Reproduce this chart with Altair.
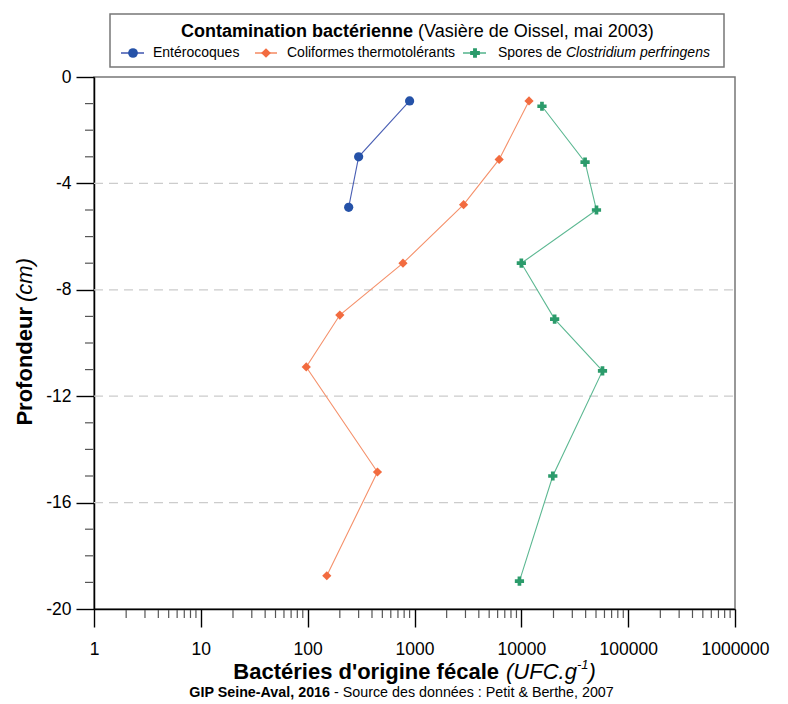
import altair as alt
import pandas as pd

FONT = "Liberation Sans, Arial, sans-serif"

# ---------------- data ----------------
series_names = ["Entérocoques", "Coliformes thermotolérants", "Spores de Clostridium perfringens"]
marker_colors = ["#2552a8", "#f26b3f", "#2b9b6b"]
line_colors = ["#4a5fb4", "#f5916b", "#5cb892"]
shapes = ["circle", "diamond", "cross"]

entero_depth = [-0.9, -3.0, -4.9]
entero_value = [900, 300, 242]
coli_depth = [-0.9, -3.1, -4.8, -7.0, -8.95, -10.9, -14.85, -18.75]
coli_value = [11800, 6200, 2880, 780, 200, 97, 450, 151]
clos_depth = [-1.1, -3.2, -5.0, -7.0, -9.1, -11.05, -15.0, -18.95]
clos_value = [15600, 39500, 50500, 10000, 20500, 57500, 19700, 9600]

x_major = [1, 10, 100, 1000, 10000, 100000, 1000000]
x_minor = [2, 3, 4, 5, 6, 7, 8, 9,
           20, 30, 40, 50, 60, 70, 80, 90,
           200, 300, 400, 500, 600, 700, 800, 900,
           2000, 3000, 4000, 5000, 6000, 7000, 8000, 9000,
           20000, 30000, 40000, 50000, 60000, 70000, 80000, 90000,
           200000, 300000, 400000, 500000, 600000, 700000, 800000, 900000]
y_major = [0, -4, -8, -12, -16, -20]
y_minor = [-1, -2, -3, -5, -6, -7, -9, -10, -11, -13, -14, -15, -17, -18, -19]
grid_vals = [-4, -8, -12, -16]

rows = []
for name, ds, vs in zip(series_names,
                        [entero_depth, coli_depth, clos_depth],
                        [entero_value, coli_value, clos_value]):
    for i, (d, v) in enumerate(zip(ds, vs)):
        rows.append({"series": name, "depth": d, "value": v, "idx": i})
df = pd.DataFrame(rows)

W, H = 641, 532

xscale = alt.Scale(type="log", domain=[1, 1000000])
yscale = alt.Scale(domain=[-20, 0], nice=False, zero=False)

xaxis = alt.Axis(values=x_major, labelExpr="'' + datum.value", tickSize=18, tickColor="black",
                 tickWidth=1.4, domainColor="black", domainWidth=1.5, labelFontSize=17.5,
                 labelFont=FONT, labelColor="black", labelPadding=13, grid=False, title=None,
                 labelFlush=False, labelOverlap=False)
yaxis = alt.Axis(values=y_major, labelExpr="'' + datum.value", tickSize=18, tickColor="black",
                 tickWidth=1.4, domainColor="black", domainWidth=1.5, labelFontSize=17.5,
                 labelFont=FONT, labelColor="black", labelPadding=5, grid=False, title=None,
                 labelFlush=False, labelOverlap=False)

X = alt.X("value:Q", scale=xscale, axis=xaxis)
Y = alt.Y("depth:Q", scale=yscale, axis=yaxis)

color_scale = alt.Scale(domain=series_names, range=marker_colors)
line_scale = alt.Scale(domain=series_names, range=line_colors)
shape_scale = alt.Scale(domain=series_names, range=shapes)

# gridlines
grid = alt.Chart(pd.DataFrame({"depth": grid_vals})).mark_rule(
    color="#cccccc", strokeWidth=1.3, strokeDash=[9, 6]
).encode(y=Y, x=alt.value(0), x2=alt.value(W))

# minor ticks
xminor = alt.Chart(pd.DataFrame({"value": x_minor})).mark_rule(
    color="#555555", strokeWidth=1.2
).encode(x=X, y=alt.value(H + 1), y2=alt.value(H + 9))
yminor = alt.Chart(pd.DataFrame({"depth": y_minor})).mark_rule(
    color="#555555", strokeWidth=1.2
).encode(y=Y, x=alt.value(-9), x2=alt.value(-1))

lines = alt.Chart(df).mark_line(strokeWidth=1.1).encode(
    x=X, y=Y,
    color=alt.Color("series:N", scale=line_scale, legend=None),
    order=alt.Order("idx:Q"),
    detail="series:N",
)
points = alt.Chart(df).mark_point(filled=True, opacity=1, size=85).encode(
    x=X, y=Y,
    color=alt.Color("series:N", scale=color_scale, legend=None),
    shape=alt.Shape("series:N", scale=shape_scale, legend=None),
)

one = pd.DataFrame({"k": [0]})
OX, OY = 94, 77  # page position of plot origin


def txt(s, px, py, size, weight="normal", style="normal", align="left", angle=0):
    kw = dict(font=FONT, fontSize=size, fontWeight=weight, fontStyle=style,
              align=align, baseline="middle", color="black")
    if angle:
        kw["angle"] = angle
    return alt.Chart(one).mark_text(**kw).encode(
        x=alt.value(px - OX), y=alt.value(py - OY), text=alt.value(s))


def seg(px1, px2, py, col):
    return alt.Chart(one).mark_rule(color=col, strokeWidth=1.6).encode(
        x=alt.value(px1 - OX), x2=alt.value(px2 - OX), y=alt.value(py - OY))


def sym(px, py, col, shp):
    return alt.Chart(one).mark_point(filled=True, opacity=1, size=95, shape=shp, color=col).encode(
        x=alt.value(px - OX), y=alt.value(py - OY))


legend_box = alt.Chart(one).mark_rect(fill="white", stroke="#777777", strokeWidth=1.5).encode(
    x=alt.value(110 - OX), x2=alt.value(724 - OX), y=alt.value(14 - OY), y2=alt.value(67 - OY))

deco = [
    legend_box,
    txt("Contamination bactérienne", 413, 32, 18, weight="bold", align="right"),
    txt("(Vasière de Oissel, mai 2003)", 418, 32, 18),
    seg(121, 144, 53, line_colors[0]), sym(133, 53, marker_colors[0], "circle"),
    txt("Entérocoques", 153, 53, 14),
    seg(255, 277, 53, line_colors[1]), sym(266, 53, marker_colors[1], "diamond"),
    txt("Coliformes thermotolérants", 287, 53, 14),
    seg(463, 486, 53, line_colors[2]), sym(475, 53, marker_colors[2], "cross"),
    txt("Spores de", 498, 53, 14),
    txt("Clostridium perfringens", 566, 53, 14, style="italic"),
    # y title
    txt("Profondeur", 25, 307, 22, weight="bold", align="right", angle=270),
    txt("(cm)", 25, 302, 22, style="italic", align="left", angle=270),
    # x title
    txt("Bactéries d'origine fécale", 499, 672, 22, weight="bold", align="right"),
    txt("(UFC.g", 506, 672, 22, style="italic"),
    txt("-1", 577, 665, 13, style="italic"),
    txt(")", 588.5, 672, 22, style="italic"),
    # footer
    txt("GIP Seine-Aval, 2016", 330, 693, 14.3, weight="bold", align="right"),
    txt("- Source des données : Petit & Berthe, 2007", 334, 693, 14.3),
]

chart = alt.layer(grid, xminor, yminor, lines, points, *deco).resolve_scale(
    color="independent"
).properties(
    width=W, height=H,
    autosize=alt.AutoSizeParams(type="none"),
    padding={"left": 86, "top": 69, "right": 45, "bottom": 95},
).configure_view(
    stroke="#777777", strokeWidth=1.5
)

chart.save("out.html", embed_options={"renderer": "svg", "actions": False})
